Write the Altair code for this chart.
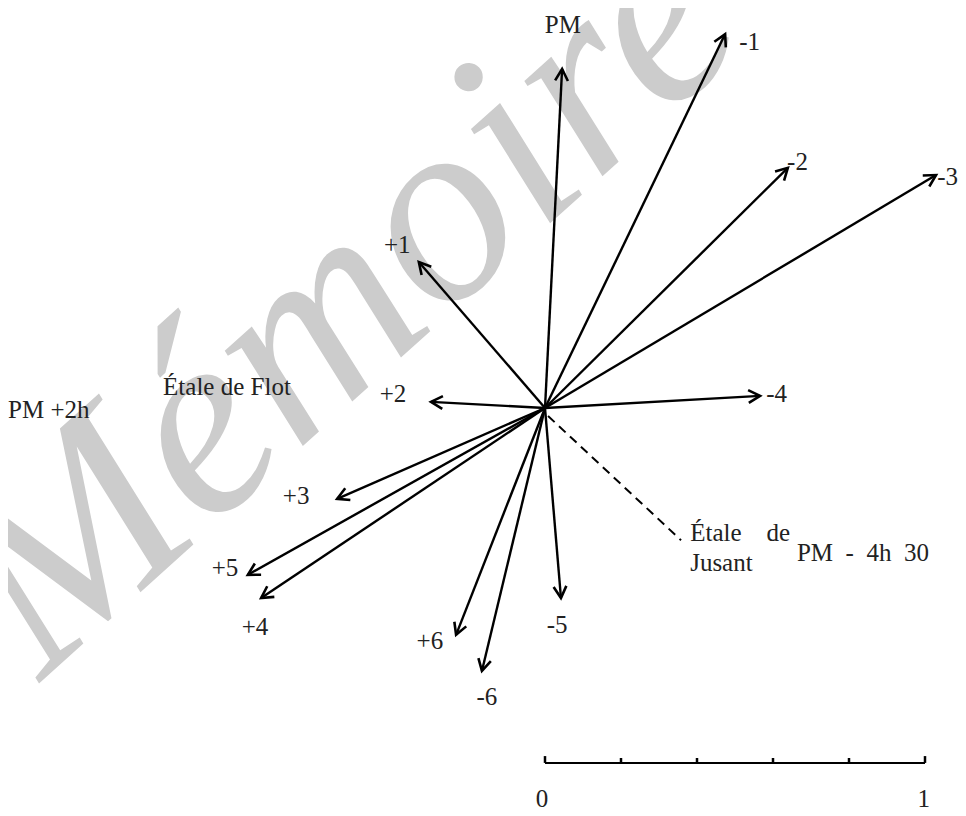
import altair as alt
import pandas as pd
import numpy as np

NB = "\u00a0"

# Current vectors (scale-bar units, origin = station), tips
arrow_names = ["PM", "-1", "-2", "-3", "-4", "+1", "+2", "+3", "+4", "+5", "+6", "-5", "-6"]
tip_u = [0.045, 0.474, 0.639, 1.029, 0.566, -0.332, -0.300, -0.547, -0.747, -0.782, -0.234, 0.042, -0.166]
tip_v = [0.892, 0.984, 0.632, 0.613, 0.032, 0.384, 0.016, -0.239, -0.500, -0.439, -0.597, -0.500, -0.692]

# Slack-water direction (dashed)
slack_u = [0.008, 0.358]
slack_v = [-0.021, -0.348]

# Labels centred on a point
c_text = ["PM", "+1", "+2", "+3", "+5", "+4", "+6", "-5", "-6"]
c_u = [0.047, -0.389, -0.400, -0.655, -0.842, -0.763, -0.303, 0.032, -0.153]
c_v = [1.008, 0.429, 0.037, -0.232, -0.421, -0.576, -0.613, -0.571, -0.761]

# Labels starting at a point
l_text = ["-1", "-2", "-3", "-4", "PM +2h", "Étale de Flot",
          "Étale" + NB * 4 + "de", "Jusant", "PM" + NB * 2 + "-" + NB * 2 + "4h" + NB * 2 + "30"]
l_u = [0.511, 0.637, 1.032, 0.582, -1.413, -1.005, 0.382, 0.382, 0.663]
l_v = [0.963, 0.647, 0.608, 0.037, -0.005, 0.055, -0.329, -0.408, -0.382]

# Scale bar 0..1
bar_ticks = [0.0, 0.2, 0.4, 0.6, 0.8, 1.0]
bar_labels = ["0", "1"]
bar_label_u = [-0.008, 0.997]
bar_y = -0.934

xs = alt.Scale(domain=[-537 / 380, 413 / 380], nice=False, zero=False)
ys = alt.Scale(domain=[-400 / 380, 400 / 380], nice=False, zero=False)

arrows = pd.DataFrame({"name": arrow_names, "u": tip_u, "v": tip_v})
arrows["u0"] = 0.0
arrows["v0"] = 0.0
arrows["bearing"] = (np.degrees(np.arctan2(arrows["u"], arrows["v"])) + 360) % 360

FONT = "Liberation Serif"

wm = alt.Chart(pd.DataFrame({"t": ["Mémoire"], "u": [-0.53], "v": [0.28]})).mark_text(
    font=FONT, fontStyle="italic", fontSize=268, color="#cccccc", angle=318,
    align="center", baseline="middle"
).encode(x=alt.X("u:Q", scale=xs, axis=None), y=alt.Y("v:Q", scale=ys, axis=None), text="t:N")

shafts = alt.Chart(arrows).mark_rule(color="black", strokeWidth=2.4).encode(
    x=alt.X("u0:Q", scale=xs, axis=None), y=alt.Y("v0:Q", scale=ys, axis=None),
    x2="u:Q", y2="v:Q")

heads = alt.Chart(arrows).mark_point(
    shape="M-0.55,1L0,0L0.55,1", filled=False, color="black", strokeWidth=2.6,
    size=540, opacity=1, strokeJoin="miter"
).encode(x=alt.X("u:Q", scale=xs, axis=None), y=alt.Y("v:Q", scale=ys, axis=None),
         angle=alt.Angle("bearing:Q", scale=None))

slack = alt.Chart(pd.DataFrame({"u": [slack_u[0]], "v": [slack_v[0]], "u2": [slack_u[1]], "v2": [slack_v[1]]})).mark_rule(
    color="black", strokeWidth=2, strokeDash=[9, 6]
).encode(x=alt.X("u:Q", scale=xs, axis=None), y=alt.Y("v:Q", scale=ys, axis=None), x2="u2:Q", y2="v2:Q")

ctext = alt.Chart(pd.DataFrame({"t": c_text, "u": c_u, "v": c_v})).mark_text(
    font=FONT, fontSize=25, color="#222222", align="center", baseline="middle"
).encode(x=alt.X("u:Q", scale=xs, axis=None), y=alt.Y("v:Q", scale=ys, axis=None), text="t:N")

ltext = alt.Chart(pd.DataFrame({"t": l_text, "u": l_u, "v": l_v})).mark_text(
    font=FONT, fontSize=25, color="#222222", align="left", baseline="middle"
).encode(x=alt.X("u:Q", scale=xs, axis=None), y=alt.Y("v:Q", scale=ys, axis=None), text="t:N")

bar = alt.Chart(pd.DataFrame({"a": [bar_ticks[0]], "b": [bar_ticks[-1]], "y": [bar_y]})).mark_rule(
    color="black", strokeWidth=2
).encode(x=alt.X("a:Q", scale=xs, axis=None), x2="b:Q", y=alt.Y("y:Q", scale=ys, axis=None))

ticks_df = pd.DataFrame({"x": bar_ticks, "y": bar_y})
ticks_df["y2"] = bar_y + np.where(np.isin(ticks_df["x"], [0.0, 1.0]), 0.018, 0.013)
ticks = alt.Chart(ticks_df).mark_rule(color="black", strokeWidth=2.5).encode(
    x=alt.X("x:Q", scale=xs, axis=None), y=alt.Y("y:Q", scale=ys, axis=None), y2="y2:Q")

blabels = alt.Chart(pd.DataFrame({"t": bar_labels, "u": bar_label_u, "v": [bar_y - 0.095] * 2})).mark_text(
    font=FONT, fontSize=25, color="#222222", align="center", baseline="middle"
).encode(x=alt.X("u:Q", scale=xs, axis=None), y=alt.Y("v:Q", scale=ys, axis=None), text="t:N")

chart = alt.layer(wm, shafts, heads, slack, ctext, ltext, bar, ticks, blabels).properties(
    width=950, height=800, padding=0, autosize=alt.AutoSizeParams(type="none")
).configure_view(stroke=None)

chart.save("out.html", embed_options={"renderer": "svg", "actions": False})
